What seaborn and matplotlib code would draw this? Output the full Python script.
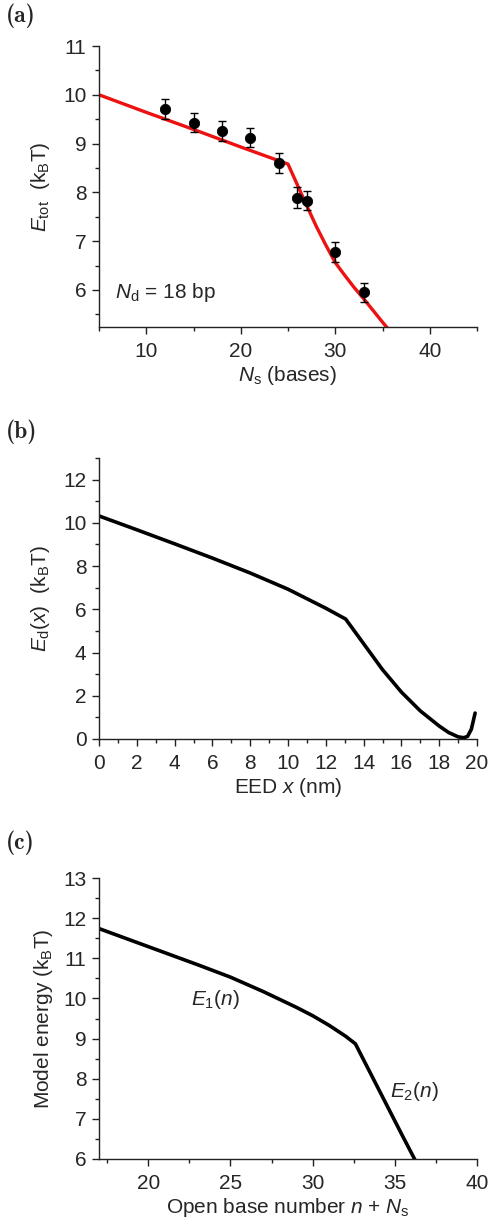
import numpy as np
import pandas as pd
import seaborn as sns
import matplotlib
matplotlib.use("Agg")
import matplotlib.pyplot as plt
from matplotlib.ticker import MultipleLocator

# ---------------- data ----------------
# (a) measured total energy vs Ns, with fit line
ns_pts = [12, 15, 18, 21, 24, 26, 27, 30, 33]
etot_pts = [9.71, 9.43, 9.26, 9.12, 8.60, 7.89, 7.83, 6.78, 5.95]
etot_err = [0.20, 0.20, 0.20, 0.20, 0.20, 0.21, 0.20, 0.20, 0.20]
fit_x = [5, 10, 15, 20, 25, 26, 27, 28, 29, 30, 31, 32, 33, 34, 35, 35.6]
fit_y = [10.0, 9.64, 9.29, 8.93, 8.58, 8.15, 7.72, 7.30, 6.92, 6.56, 6.30, 6.05, 5.82, 5.58, 5.34, 5.20]

# (b) E_d(x) vs EED
eed_x = [0, 2, 4, 6, 8, 10, 12, 13.05, 14, 15, 16, 17, 18, 18.5, 19, 19.3, 19.5, 19.7, 19.9]
ed_y = [10.32, 9.68, 9.03, 8.37, 7.68, 6.93, 6.05, 5.55, 4.41, 3.21, 2.17, 1.30, 0.60, 0.30, 0.10, 0.06, 0.12, 0.45, 1.20]

# (c) model energy vs open base number
nb_x = [17, 19, 21, 23, 25, 27, 29, 30, 31, 32, 32.6, 33.5, 34.5, 35.5, 36.2, 36.5]
me_y = [11.74, 11.44, 11.14, 10.84, 10.53, 10.17, 9.78, 9.57, 9.33, 9.06, 8.87, 8.15, 7.35, 6.55, 6.00, 5.76]

# ---------------- style ----------------
sns.set_style("ticks")
plt.rcParams['font.family'] = ['Liberation Sans', 'DejaVu Sans']
plt.rcParams['mathtext.fontset'] = 'custom'
plt.rcParams['mathtext.rm'] = 'Liberation Sans'
plt.rcParams['mathtext.it'] = 'Liberation Sans:italic'
plt.rcParams['mathtext.bf'] = 'Liberation Sans:bold'
plt.rcParams['axes.linewidth'] = 1.0
plt.rcParams['axes.edgecolor'] = '#222222'

FS = 15
fig = plt.figure(figsize=(4.9, 12.28), dpi=100)
W, H = 490, 1228

def make_ax(left, top, right, bottom):
    return fig.add_axes([left / W, 1 - bottom / H, (right - left) / W, (bottom - top) / H])

axa = make_ax(99, 46, 477, 327)
axb = make_ax(99, 458, 477, 739)
axc = make_ax(99, 878, 477, 1159)

def style(ax):
    sns.despine(ax=ax)
    ax.tick_params(which='major', direction='out', length=5, width=1.0, labelsize=FS, pad=4, color='#222222')
    ax.tick_params(which='minor', direction='out', length=3, width=1.0, color='#222222')
    ax.tick_params(axis='x', which='major', pad=6)

# ---- (a)
sns.lineplot(x=fit_x, y=fit_y, ax=axa, color='#ee1111', lw=2.4, sort=False)
axa.errorbar(ns_pts, etot_pts, yerr=etot_err, fmt='none', ecolor='black', elinewidth=1.0, capsize=2.8, capthick=1.0, zorder=3)
sns.scatterplot(x=ns_pts, y=etot_pts, ax=axa, color='black', s=55, edgecolor='black', zorder=4)
axa.set_xlim(5, 45)
axa.set_ylim(5.24, 11)
axa.xaxis.set_major_locator(MultipleLocator(10))
axa.xaxis.set_minor_locator(MultipleLocator(5))
axa.yaxis.set_major_locator(MultipleLocator(1))
axa.yaxis.set_minor_locator(MultipleLocator(0.5))
style(axa)
axa.set_xlabel(r'$N_{\rm s}$ (bases)', fontsize=FS, labelpad=2)
axa.set_ylabel(r'$E_{\rm tot}$  (k$_{\rm B}$T)', fontsize=FS, labelpad=8)
axa.text(6.7, 5.95, r'$N_{\rm d}$ = 18 bp', fontsize=FS, ha='left', va='center')

# ---- (b)
sns.lineplot(x=eed_x, y=ed_y, ax=axb, color='black', lw=2.6, sort=False)
axb.set_xlim(0, 20)
axb.set_ylim(0, 13)
axb.xaxis.set_major_locator(MultipleLocator(2))
axb.xaxis.set_minor_locator(MultipleLocator(1))
axb.yaxis.set_major_locator(MultipleLocator(2))
axb.yaxis.set_minor_locator(MultipleLocator(1))
style(axb)
axb.set_xlabel(r'EED $x$ (nm)', fontsize=FS, labelpad=2)
axb.set_ylabel(r'$E_{\rm d}(x)$  (k$_{\rm B}$T)', fontsize=FS, labelpad=8)

# ---- (c)
sns.lineplot(x=nb_x, y=me_y, ax=axc, color='black', lw=2.6, sort=False)
axc.set_xlim(17, 40)
axc.set_ylim(6, 13)
axc.xaxis.set_major_locator(MultipleLocator(5))
axc.xaxis.set_minor_locator(MultipleLocator(2.5))
axc.yaxis.set_major_locator(MultipleLocator(1))
axc.yaxis.set_minor_locator(MultipleLocator(0.5))
style(axc)
axc.set_xlabel(r'Open base number $n$ + $N_{\rm s}$', fontsize=FS, labelpad=2)
axc.set_ylabel(r'Model energy (k$_{\rm B}$T)', fontsize=FS, labelpad=6)
axc.text(24.1, 9.97, r'$E_1(n)$', fontsize=FS, ha='center', va='center')
axc.text(36.2, 7.68, r'$E_2(n)$', fontsize=FS, ha='center', va='center')

# panel labels
for lab, ypix in [('(a)', 16), ('(b)', 432), ('(c)', 843)]:
    fig.text(6 / W, 1 - ypix / H, lab, fontsize=17, family=['cmb10', 'DejaVu Serif'], ha='left', va='center')

fig.savefig('out.png', dpi=100)
